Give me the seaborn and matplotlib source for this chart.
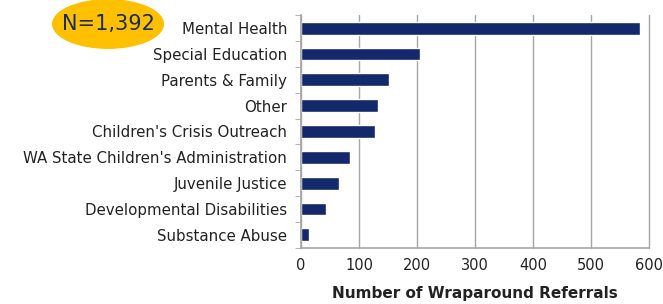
import matplotlib
matplotlib.use("Agg")
import matplotlib.pyplot as plt
import seaborn as sns
import pandas as pd
import numpy as np
from matplotlib.patches import Ellipse

# Referral sources and counts
sources = [
    "Mental Health",
    "Special Education",
    "Parents & Family",
    "Other",
    "Children's Crisis Outreach",
    "WA State Children's Administration",
    "Juvenile Justice",
    "Developmental Disabilities",
    "Substance Abuse",
]
referrals = [584, 205, 152, 133, 128, 84, 65, 43, 14]
total_label = "N=1,392"

df = pd.DataFrame({"Source": sources, "Referrals": referrals})

sns.set_style("white")
plt.rcParams["font.family"] = ["DejaVu Sans"]

fig = plt.figure(figsize=(6.63, 3.04), dpi=100)
ax = fig.add_axes([0.454, 0.185, 0.525, 0.765])

sns.barplot(data=df, x="Referrals", y="Source", color="#13296b",
            width=0.5, ax=ax, saturation=1)

ax.set_xlim(0, 600)
ax.set_ylim(len(sources) - 0.5, -0.5)
ax.set_xticks(range(0, 601, 100))
ax.grid(axis="x", color="#a6a6a6", linewidth=1)
for gl in ax.get_xgridlines():
    gl.set_clip_on(False)
ax.set_axisbelow(True)
for s in ["top", "right"]:
    ax.spines[s].set_visible(False)
for s in ["left", "bottom"]:
    ax.spines[s].set_color("#a6a6a6")
    ax.spines[s].set_linewidth(1.2)
# category tick marks sit between the bars
ax.set_yticks(np.arange(len(sources) + 1) - 0.5, minor=True)
ax.tick_params(axis="y", which="minor", length=4, color="#a6a6a6", left=True)
ax.tick_params(axis="y", which="major", length=0, labelsize=10.8, labelcolor="#222222", pad=10)
ax.tick_params(axis="x", length=4, color="#a6a6a6", labelsize=10.5, labelcolor="#222222")
ax.set_ylabel("")
ax.set_xlabel("Number of Wraparound Referrals", fontsize=11, fontweight="bold",
              color="#222222", labelpad=9)

# badge with the total count
ell = Ellipse((0.163, 0.921), 0.169, 0.164, transform=fig.transFigure,
              facecolor="#ffc000", edgecolor="none")
fig.patches.append(ell)
fig.text(0.163, 0.921, total_label, ha="center", va="center", fontsize=15,
         color="#1a2c5e")

fig.savefig("out.png", dpi=100)
